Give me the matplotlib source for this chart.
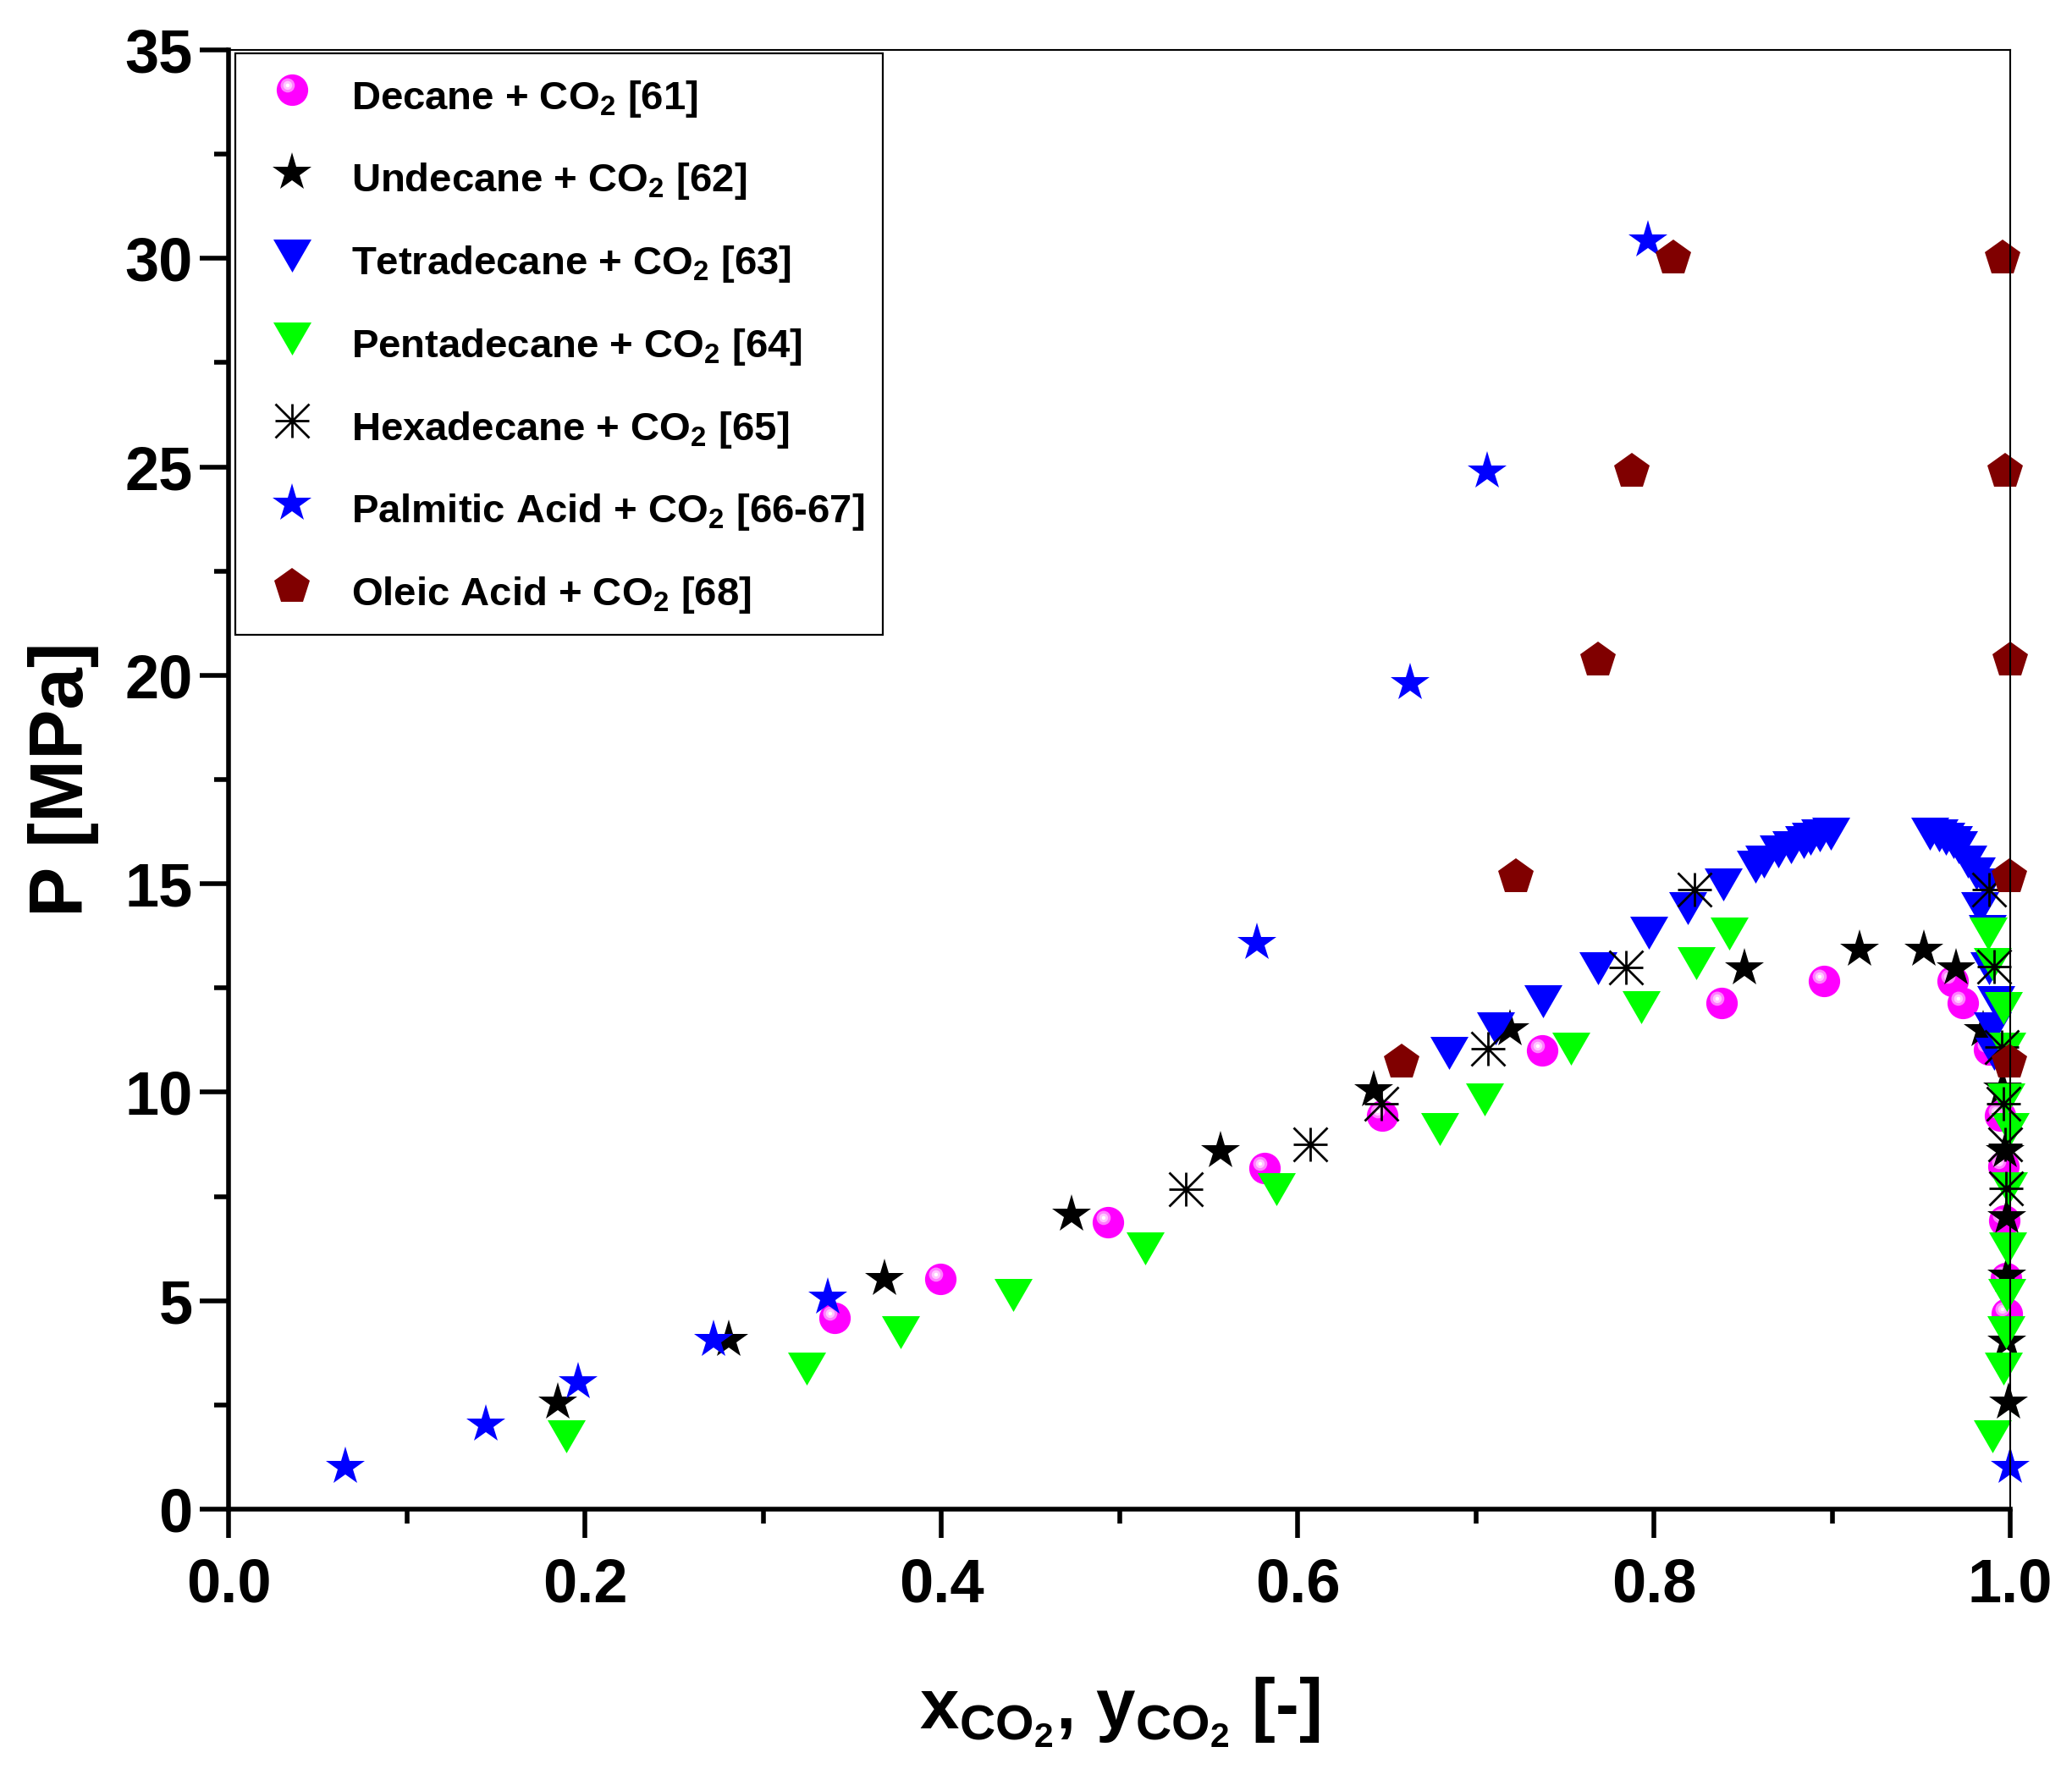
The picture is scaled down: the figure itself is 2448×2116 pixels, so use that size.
import numpy as np
import matplotlib
matplotlib.use("Agg")
import matplotlib.pyplot as plt
from matplotlib.path import Path
from matplotlib.ticker import MultipleLocator, FormatStrFormatter

plt.rcParams['font.family'] = ['Liberation Sans', 'DejaVu Sans']
plt.rcParams['font.weight'] = 'bold'
plt.rcParams['mathtext.fontset'] = 'custom'
plt.rcParams['mathtext.rm'] = 'Liberation Sans'
plt.rcParams['mathtext.bf'] = 'Liberation Sans:bold'
plt.rcParams['mathtext.it'] = 'Liberation Sans:italic'

# --- data (x or y of CO2, pressure in MPa) ---
decane_x = [0.340, 0.3995, 0.4937, 0.5815, 0.6473, 0.7373, 0.838, 0.8955,
            0.9677, 0.9735, 0.988, 0.9945, 0.996, 0.9968, 0.9976, 0.998]
decane_p = [4.58, 5.52, 6.89, 8.18, 9.43, 11.0, 12.14, 12.66,
            12.66, 12.14, 11.02, 9.43, 8.22, 6.92, 5.55, 4.69]

undecane_x = [0.185, 0.2808, 0.3682, 0.473, 0.5569, 0.6426, 0.7192, 0.851, 0.9156,
              0.9516, 0.9696, 0.985, 0.9957, 0.9971, 0.9979, 0.998, 0.998, 0.999]
undecane_p = [2.55, 4.06, 5.53, 7.06, 8.58, 10.04, 11.51, 12.98, 13.41,
              13.41, 12.97, 11.49, 10.08, 8.58, 7.0, 5.6, 4.02, 2.56]

tetradecane_x = [0.6849, 0.711, 0.7379, 0.7687, 0.797, 0.819, 0.839, 0.857, 0.8615,
                 0.870, 0.877, 0.884, 0.888, 0.893, 0.8995,
                 0.955, 0.960, 0.964, 0.968, 0.971, 0.976, 0.981, 0.9866, 0.983,
                 0.987, 0.988, 0.992, 0.990, 0.991]
tetradecane_p = [10.94, 11.54, 12.18, 12.98, 13.82, 14.41, 14.98, 15.40, 15.54,
                 15.77, 15.88, 15.99, 16.07, 16.15, 16.20,
                 16.21, 16.15, 16.08, 15.99, 15.87, 15.54, 15.25, 14.98, 14.41,
                 13.86, 12.97, 12.17, 11.53, 10.92]

pentadecane_x = [0.1894, 0.3243, 0.377, 0.4404, 0.5143, 0.588, 0.680, 0.7051, 0.7534,
                 0.793, 0.8236, 0.8423,
                 0.990, 0.9964, 0.9975, 0.998, 0.9987, 0.9992, 1.0, 0.9976, 0.998,
                 0.996, 0.9899, 0.9875]
pentadecane_p = [1.74, 3.37, 4.25, 5.13, 6.25, 7.67, 9.11, 9.82, 11.05,
                 12.03, 13.09, 13.80,
                 1.74, 3.37, 4.25, 5.13, 6.25, 7.70, 9.12, 9.82, 11.04,
                 12.02, 13.08, 13.80]

hexadecane_x = [0.5373, 0.6071, 0.6472, 0.707, 0.7843, 0.8226,
                0.988, 0.991, 0.9953, 0.996, 0.997, 0.9976]
hexadecane_p = [7.68, 8.75, 9.73, 11.05, 13.0, 14.86,
                14.86, 13.01, 11.09, 9.73, 8.75, 7.70]

palmitic_x = [0.0654, 0.1443, 0.196, 0.2724, 0.3362, 0.5772, 0.663, 0.7064, 0.7965, 1.0]
palmitic_p = [1.01, 2.03, 3.04, 4.05, 5.07, 13.59, 19.82, 24.9, 30.44, 1.01]

oleic_x = [0.6583, 0.7226, 0.7684, 0.7878, 0.8108,
           0.9956, 0.997, 1.0, 0.9995, 0.9995]
oleic_p = [10.72, 15.16, 20.36, 24.9, 30.0,
           30.0, 24.9, 20.36, 15.16, 10.72]

labels = [r'Decane + CO$_\mathbf{2}$ [61]',
          r'Undecane + CO$_\mathbf{2}$ [62]',
          r'Tetradecane + CO$_\mathbf{2}$ [63]',
          r'Pentadecane + CO$_\mathbf{2}$ [64]',
          r'Hexadecane + CO$_\mathbf{2}$ [65]',
          r'Palmitic Acid + CO$_\mathbf{2}$ [66-67]',
          r'Oleic Acid + CO$_\mathrm{2}$ [68]']


def circle_path(cx, cy, r):
    # offset circle; two stray moveto points keep the marker scale fixed
    c = Path.circle((cx, cy), r)
    verts = np.vstack([c.vertices, [[1, 1], [-1, -1]]])
    codes = np.concatenate([c.codes, [Path.MOVETO, Path.MOVETO]])
    return Path(verts, codes)


tri_down = Path([(0, -0.866), (-1, 0.866), (1, 0.866), (0, -0.866)],
                [Path.MOVETO, Path.LINETO, Path.LINETO, Path.CLOSEPOLY])
aster = Path([(-1, 0), (1, 0), (0, -1), (0, 1), (-1, -1), (1, 1), (-1, 1), (1, -1)],
             [Path.MOVETO, Path.LINETO] * 4)

fig = plt.figure(figsize=(12.24, 10.58), dpi=200)
ax = fig.add_axes([0.1103, 0.1574, 0.8599, 0.8147])

kw = dict(ls='none', clip_on=False)
ball = ax.plot(decane_x, decane_p, marker='o', ms=13.4, mfc='#ff00ff', mew=0, **kw)[0]
shine = [ax.plot(decane_x, decane_p, marker=circle_path(-0.3, 0.3, r), ms=13.4,
                 mfc=c, mew=0, **kw)[0]
         for r, c in [(0.45, '#ff80ff'), (0.28, '#ffc6ff'), (0.12, 'white')]]
h_und = ax.plot(undecane_x, undecane_p, marker='*', ms=17.3, mfc='black', mew=0, **kw)[0]
h_tet = ax.plot(tetradecane_x, tetradecane_p, marker=tri_down, ms=16.2, mfc='#0000ff', mew=0, **kw)[0]
h_pen = ax.plot(pentadecane_x, pentadecane_p, marker=tri_down, ms=16.2, mfc='#00ff00', mew=0, **kw)[0]
h_hex = ax.plot(hexadecane_x, hexadecane_p, marker=aster, ms=14.4, mfc='none', mec='black', mew=1.0, **kw)[0]
h_pal = ax.plot(palmitic_x, palmitic_p, marker='*', ms=17.3, mfc='#0000ff', mew=0, **kw)[0]
h_ole = ax.plot(oleic_x, oleic_p, marker='p', ms=15.8, mfc='#800000', mew=0, **kw)[0]

ax.set_xlim(0, 1.0)
ax.set_ylim(0, 35)
ax.xaxis.set_major_locator(MultipleLocator(0.2))
ax.xaxis.set_minor_locator(MultipleLocator(0.1))
ax.yaxis.set_major_locator(MultipleLocator(5))
ax.yaxis.set_minor_locator(MultipleLocator(2.5))
ax.xaxis.set_major_formatter(FormatStrFormatter('%.1f'))
ax.tick_params(which='major', direction='out', length=12.2, width=2, labelsize=26)
ax.tick_params(which='minor', direction='out', length=6.1, width=2)
ax.tick_params(axis='x', which='major', pad=8)
ax.tick_params(axis='y', which='major', pad=3)
for s in ['left', 'bottom']:
    ax.spines[s].set_linewidth(2.0)
for s in ['top', 'right']:
    ax.spines[s].set_linewidth(0.75)

ax.set_ylabel('P [MPa]', fontsize=32, fontweight='bold', labelpad=11)
ax.set_xlabel(r'$\mathbf{x}_{\mathbf{CO}_{\mathbf{2}}}$, $\mathbf{y}_{\mathbf{CO}_{\mathbf{2}}}$ [-]',
              fontsize=30, fontweight='bold', labelpad=26)

handles = [tuple([ball] + shine), h_und, h_tet, h_pen, h_hex, h_pal, h_ole]
leg = ax.legend(handles, labels, loc='upper left', bbox_to_anchor=(0.0038, 0.9977),
                borderaxespad=0, fontsize=17, numpoints=1, fancybox=False,
                framealpha=1, edgecolor='black', borderpad=0.45, labelspacing=0.85,
                handleheight=1.5, handlelength=1.93, handletextpad=0.52)
leg.get_frame().set_linewidth(0.8)

fig.savefig('out.png', dpi=200)
